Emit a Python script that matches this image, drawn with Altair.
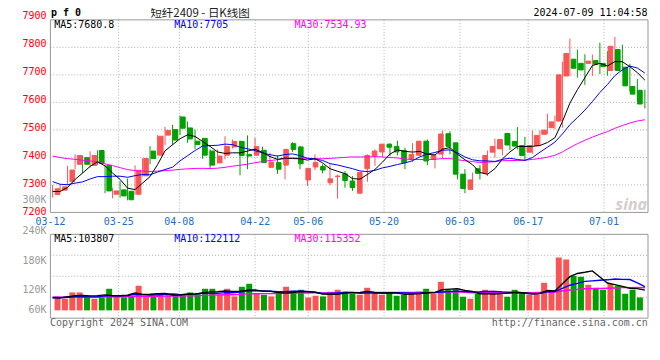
import altair as alt
import pandas as pd
import numpy as np

# ---------------- data ----------------
month_days = {
    "03": [12, 13, 14, 15, 18, 19, 20, 21, 22, 25, 26, 27, 28, 29],
    "04": [1, 2, 3, 8, 9, 10, 11, 12, 15, 16, 17, 18, 19, 22, 23, 24, 25, 26, 29, 30],
    "05": [6, 7, 8, 9, 10, 13, 14, 15, 16, 17, 20, 21, 22, 23, 24, 27, 28, 29, 30, 31],
    "06": [3, 4, 5, 6, 7, 11, 12, 13, 14, 17, 18, 19, 20, 21, 24, 25, 26, 27, 28],
    "07": [1, 2, 3, 4, 5, 8, 9],
}
dates = [f"{m}-{d:02d}" for m, ds in month_days.items() for d in ds]

opens = [7265, 7281, 7312, 7375, 7399, 7371, 7425, 7371, 7266, 7282,
         7277, 7266, 7333, 7423, 7408, 7481, 7501, 7547, 7507, 7459,
         7469, 7423, 7380, 7408, 7438, 7458, 7411, 7408, 7426, 7364,
         7381, 7372, 7450, 7438, 7318, 7365, 7367, 7308, 7330, 7340,
         7314, 7270, 7359, 7405, 7420, 7448, 7440, 7425, 7393, 7408,
         7459, 7393, 7412, 7486, 7453, 7339, 7284, 7359, 7342, 7419,
         7431, 7487, 7458, 7443, 7419, 7443, 7484, 7508, 7532, 7696,
         7757, 7742, 7742, 7752, 7741, 7716, 7792, 7728, 7658, 7644]
highs = [7300, 7302, 7369, 7411, 7407, 7422, 7426, 7373, 7290, 7314,
         7323, 7371, 7397, 7441, 7481, 7511, 7518, 7552, 7530, 7501,
         7471, 7429, 7429, 7477, 7465, 7461, 7480, 7471, 7439, 7417,
         7408, 7431, 7455, 7442, 7360, 7411, 7375, 7375, 7337, 7351,
         7332, 7345, 7411, 7429, 7448, 7451, 7461, 7435, 7452, 7459,
         7465, 7411, 7498, 7495, 7453, 7357, 7345, 7372, 7425, 7468,
         7465, 7487, 7510, 7475, 7498, 7498, 7559, 7552, 7748, 7832,
         7792, 7775, 7774, 7817, 7786, 7838, 7810, 7740, 7685, 7646]
lows = [7254, 7275, 7299, 7357, 7342, 7363, 7373, 7270, 7251, 7254,
        7244, 7264, 7330, 7375, 7407, 7445, 7445, 7482, 7453, 7431,
        7395, 7360, 7378, 7393, 7432, 7335, 7357, 7408, 7380, 7364,
        7340, 7320, 7420, 7357, 7296, 7354, 7342, 7299, 7250, 7290,
        7278, 7266, 7312, 7369, 7402, 7405, 7407, 7357, 7383, 7405,
        7372, 7360, 7395, 7411, 7320, 7270, 7282, 7320, 7332, 7399,
        7407, 7427, 7429, 7387, 7414, 7441, 7484, 7502, 7508, 7694,
        7690, 7663, 7696, 7703, 7697, 7716, 7712, 7640, 7606, 7578]
closes = [7286, 7293, 7354, 7407, 7375, 7407, 7378, 7278, 7278, 7260,
          7246, 7353, 7396, 7396, 7477, 7498, 7463, 7506, 7467, 7447,
          7408, 7372, 7405, 7440, 7458, 7407, 7405, 7439, 7381, 7383,
          7357, 7429, 7429, 7377, 7360, 7381, 7354, 7322, 7332, 7316,
          7290, 7345, 7407, 7423, 7448, 7437, 7420, 7381, 7411, 7459,
          7387, 7407, 7485, 7440, 7339, 7287, 7318, 7342, 7407, 7440,
          7465, 7445, 7441, 7407, 7443, 7480, 7499, 7529, 7700, 7778,
          7724, 7718, 7750, 7739, 7730, 7804, 7716, 7660, 7630, 7594]
volumes = [71600, 59700, 92100, 92100, 68200, 59700, 66500, 110800, 71600, 66500,
           71600, 126200, 75000, 75000, 80100, 80100, 85300, 75000, 92100, 85300,
           110800, 110800, 80100, 110800, 71600, 121100, 136400, 85300, 80100, 71600,
           85300, 121100, 100600, 105700, 66500, 75000, 71600, 95500, 105700, 95500,
           85300, 80100, 115900, 85300, 80100, 90400, 75000, 80100, 90400, 95500,
           110800, 85300, 146600, 105700, 105700, 69900, 59700, 85300, 105700, 100600,
           85300, 69900, 105700, 85300, 80100, 95500, 141500, 95500, 271100, 260900,
           177300, 172200, 131300, 115900, 105700, 134700, 126200, 85300, 105700, 66500]
# sessions before 03-12 (estimated from where the moving averages start)
prior_closes = [7460, 7475, 7480, 7470, 7485, 7490, 7480, 7475, 7480, 7465,
                7455, 7450, 7445, 7440, 7430, 7425, 7415, 7410, 7405, 7395,
                7390, 7370, 7350, 7330, 7300, 7293, 7279, 7262, 7260]
prior_volumes = [70000, 72000, 66000, 68000, 74000, 70000, 65000, 68000, 71000, 69000,
                 67000, 72000, 70000, 68000, 66000, 70000, 73000, 69000, 67000, 65000,
                 70000, 66000, 72000, 64000, 68000, 60000, 64000, 62000, 62000]

tick_dates = ["03-12", "03-25", "04-08", "04-22", "05-06", "05-20", "06-03", "06-17", "07-01"]
price_ticks = [7900, 7800, 7700, 7600, 7500, 7400, 7300, 7200]
price_ma_text = ["MA5:7680.8", "MA10:7705", "MA30:7534.93"]
vol_ma_text = ["MA5:103807", "MA10:122112", "MA30:115352"]
vol_labels = ["300K", "240K", "180K", "120K", "60K"]

# ---------------- derived tables ----------------
n = len(closes)
df = pd.DataFrame({"i": np.arange(n), "date": dates, "open": opens, "high": highs,
                   "low": lows, "close": closes, "vol": volumes})
df["color"] = np.where(df["close"] >= df["open"], "#fa5555", "#00a000")
df["btop"] = df[["open", "close"]].max(axis=1)
df["bbot"] = df[["open", "close"]].min(axis=1)
df["zero"] = 0
cs = pd.Series(prior_closes + closes)
vs = pd.Series(prior_volumes + volumes)
k = len(prior_closes)
for w in (5, 10, 30):
    df[f"ma{w}"] = cs.rolling(w).mean().iloc[k:].values
    df[f"vma{w}"] = vs.rolling(w).mean().iloc[k:].values

W, H = 599, 299
FONT = "DejaVu Sans Mono"
GRIDC = "#b0b0b0"
FRAMEC = "#999999"
PRICE = alt.Scale(domain=[7200, 7900], range=[193, 0], zero=False, nice=False)
PRICE_LAB = alt.Scale(domain=[7200, 7900], range=[192.2, -3.5], zero=False, nice=False)
VOLD = [-39900, 389800]
VOL = alt.Scale(domain=VOLD, range=[299, 215], zero=False, nice=False)
XC = alt.Scale(domain=[-0.293, 79.42], zero=False, nice=False)
XG = alt.Scale(domain=[0, 78.8], zero=False, nice=False)

grid_df = pd.DataFrame({"g": [dates.index(d) for d in tick_dates[1:]]})
grid_df["ptop"], grid_df["pbot"] = 7900, 7200
grid_df["vtop"], grid_df["vbot"] = VOLD[1], VOLD[0]
tick_df = pd.DataFrame({"g": [dates.index(d) for d in tick_dates], "label": tick_dates})
hgrid_df = pd.DataFrame({"p": price_ticks[1:-1]})
vq = (VOLD[1] - VOLD[0]) / 4
vgrid_df = pd.DataFrame({"v": [VOLD[0] + vq * j for j in (1, 2, 3)]})
frame_p = pd.DataFrame({"a": [7900], "b": [7200]})
frame_v = pd.DataFrame({"a": [VOLD[1]], "b": [VOLD[0]]})
plab_df = pd.DataFrame({"p": price_ticks, "label": [str(p) for p in price_ticks]})

xc = alt.X("i:Q", scale=XC, axis=None)
base = alt.Chart(df)
layers = []

# grids
layers.append(alt.Chart(hgrid_df).mark_rule(color=GRIDC, strokeDash=[1, 2], strokeWidth=1).encode(
    x=alt.value(0), x2=alt.value(W), y=alt.Y("p:Q", scale=PRICE, axis=None)))
layers.append(alt.Chart(vgrid_df).mark_rule(color=GRIDC, strokeDash=[1, 2], strokeWidth=1).encode(
    x=alt.value(0), x2=alt.value(W), y=alt.Y("v:Q", scale=VOL, axis=None)))
layers.append(alt.Chart(grid_df).mark_rule(color=GRIDC, strokeDash=[1, 2], strokeWidth=1).encode(
    x=alt.X("g:Q", scale=XG, axis=None), y=alt.Y("ptop:Q", scale=PRICE, axis=None), y2="pbot:Q"))
layers.append(alt.Chart(grid_df).mark_rule(color=GRIDC, strokeDash=[1, 2], strokeWidth=1).encode(
    x=alt.X("g:Q", scale=XG, axis=None), y=alt.Y("vtop:Q", scale=VOL, axis=None), y2="vbot:Q"))

# watermark
layers.append(alt.Chart(frame_p).mark_text(text="sina", font="Open Sans", fontSize=16, fontStyle="italic",
                                           fontWeight="bold", color="#d6cccc", align="right").encode(
    x=alt.value(598), y=alt.value(186)))

# candles
layers.append(base.mark_rule(strokeWidth=1).encode(
    x=xc, y=alt.Y("high:Q", scale=PRICE, axis=None), y2="low:Q", color=alt.Color("color:N", scale=None)))
layers.append(base.mark_bar(size=4.6, strokeWidth=1).encode(
    x=xc, y=alt.Y("btop:Q", scale=PRICE, axis=None), y2="bbot:Q",
    color=alt.Color("color:N", scale=None), stroke=alt.Stroke("color:N", scale=None)))
for col, c in (("ma30", "#ff00ff"), ("ma10", "#0000ff"), ("ma5", "#000000")):
    layers.append(base.mark_line(color=c, strokeWidth=1).encode(
        x=xc, y=alt.Y(f"{col}:Q", scale=PRICE, axis=None)))

# volume
layers.append(base.mark_bar(size=6).encode(
    x=xc, y=alt.Y("vol:Q", scale=VOL, axis=None), y2="zero:Q", color=alt.Color("color:N", scale=None)))
for col, c in (("vma30", "#ff00ff"), ("vma10", "#0000ff"), ("vma5", "#000000")):
    layers.append(base.mark_line(color=c, strokeWidth=1.4).encode(
        x=xc, y=alt.Y(f"{col}:Q", scale=VOL, axis=None)))

# frames
layers.append(alt.Chart(frame_p).mark_rect(fillOpacity=0, stroke=FRAMEC, strokeWidth=1).encode(
    x=alt.value(0), x2=alt.value(W), y=alt.Y("a:Q", scale=PRICE, axis=None), y2="b:Q"))
layers.append(alt.Chart(frame_v).mark_rect(fillOpacity=0, stroke=FRAMEC, strokeWidth=1).encode(
    x=alt.value(0), x2=alt.value(W), y=alt.Y("a:Q", scale=VOL, axis=None), y2="b:Q"))

# axis labels
layers.append(alt.Chart(plab_df).mark_text(font=FONT, fontSize=10, color="#ff0000", align="right",
                                           baseline="middle").encode(
    x=alt.value(-4), y=alt.Y("p:Q", scale=PRICE_LAB, axis=None), text="label:N"))
layers.append(alt.Chart(tick_df).mark_text(font=FONT, fontSize=10, color="#1a6fcf", align="center",
                                           baseline="alphabetic").encode(
    x=alt.X("g:Q", scale=XG, axis=None), y=alt.value(205.5), text="label:N"))
for lab, yy in zip(vol_labels, [181, 211.5, 241.5, 270.5, 290.8]):
    layers.append(alt.Chart(frame_p).mark_text(text=lab, font=FONT, fontSize=10, color="#999999",
                                               align="right", baseline="middle").encode(
        x=alt.value(-4), y=alt.value(yy)))

# texts
def txt(s, x, y, color="#000000", align="left", size=10, weight="normal", font=FONT):
    return alt.Chart(frame_p).mark_text(text=s, font=font, fontSize=size, color=color, align=align,
                                        fontWeight=weight, baseline="alphabetic").encode(
        x=alt.value(x), y=alt.value(y))

ma_colors = ["#000000", "#0000ff", "#ff00ff"]
for j, (s, c) in enumerate(zip(price_ma_text, ma_colors)):
    layers.append(txt(s, 3.8 + 120.4 * j, 7.8, c))
for j, (s, c) in enumerate(zip(vol_ma_text, ma_colors)):
    layers.append(txt(s, 3.8 + 120.4 * j, 222.2, c))
layers.append(txt("p f 0", 0.5, -3.5, weight="bold"))
layers.append(txt("短纤2409 - 日K线图", 150, -2.5, color="#222222", align="center", size=11.5,
                  font="Noto Sans CJK SC"))
layers.append(txt("2024-07-09 11:04:58", 598.5, -3.5, align="right"))
layers.append(txt("Copyright 2024 SINA.COM", -0.5, 306.5, color="#666666"))
layers.append(txt("http://finance.sina.com.cn", 598.8, 306.5, color="#666666", align="right"))

chart = alt.layer(*layers).resolve_scale(x="independent", y="independent", color="independent").properties(
    width=W, height=H,
    padding={"left": 42.5, "top": 11.5, "right": 4, "bottom": 20},
    autosize=alt.AutoSizeParams(type="none"),
    background="white",
).configure_view(stroke=None)

chart.save("out.html", embed_options={"renderer": "svg", "actions": False})
